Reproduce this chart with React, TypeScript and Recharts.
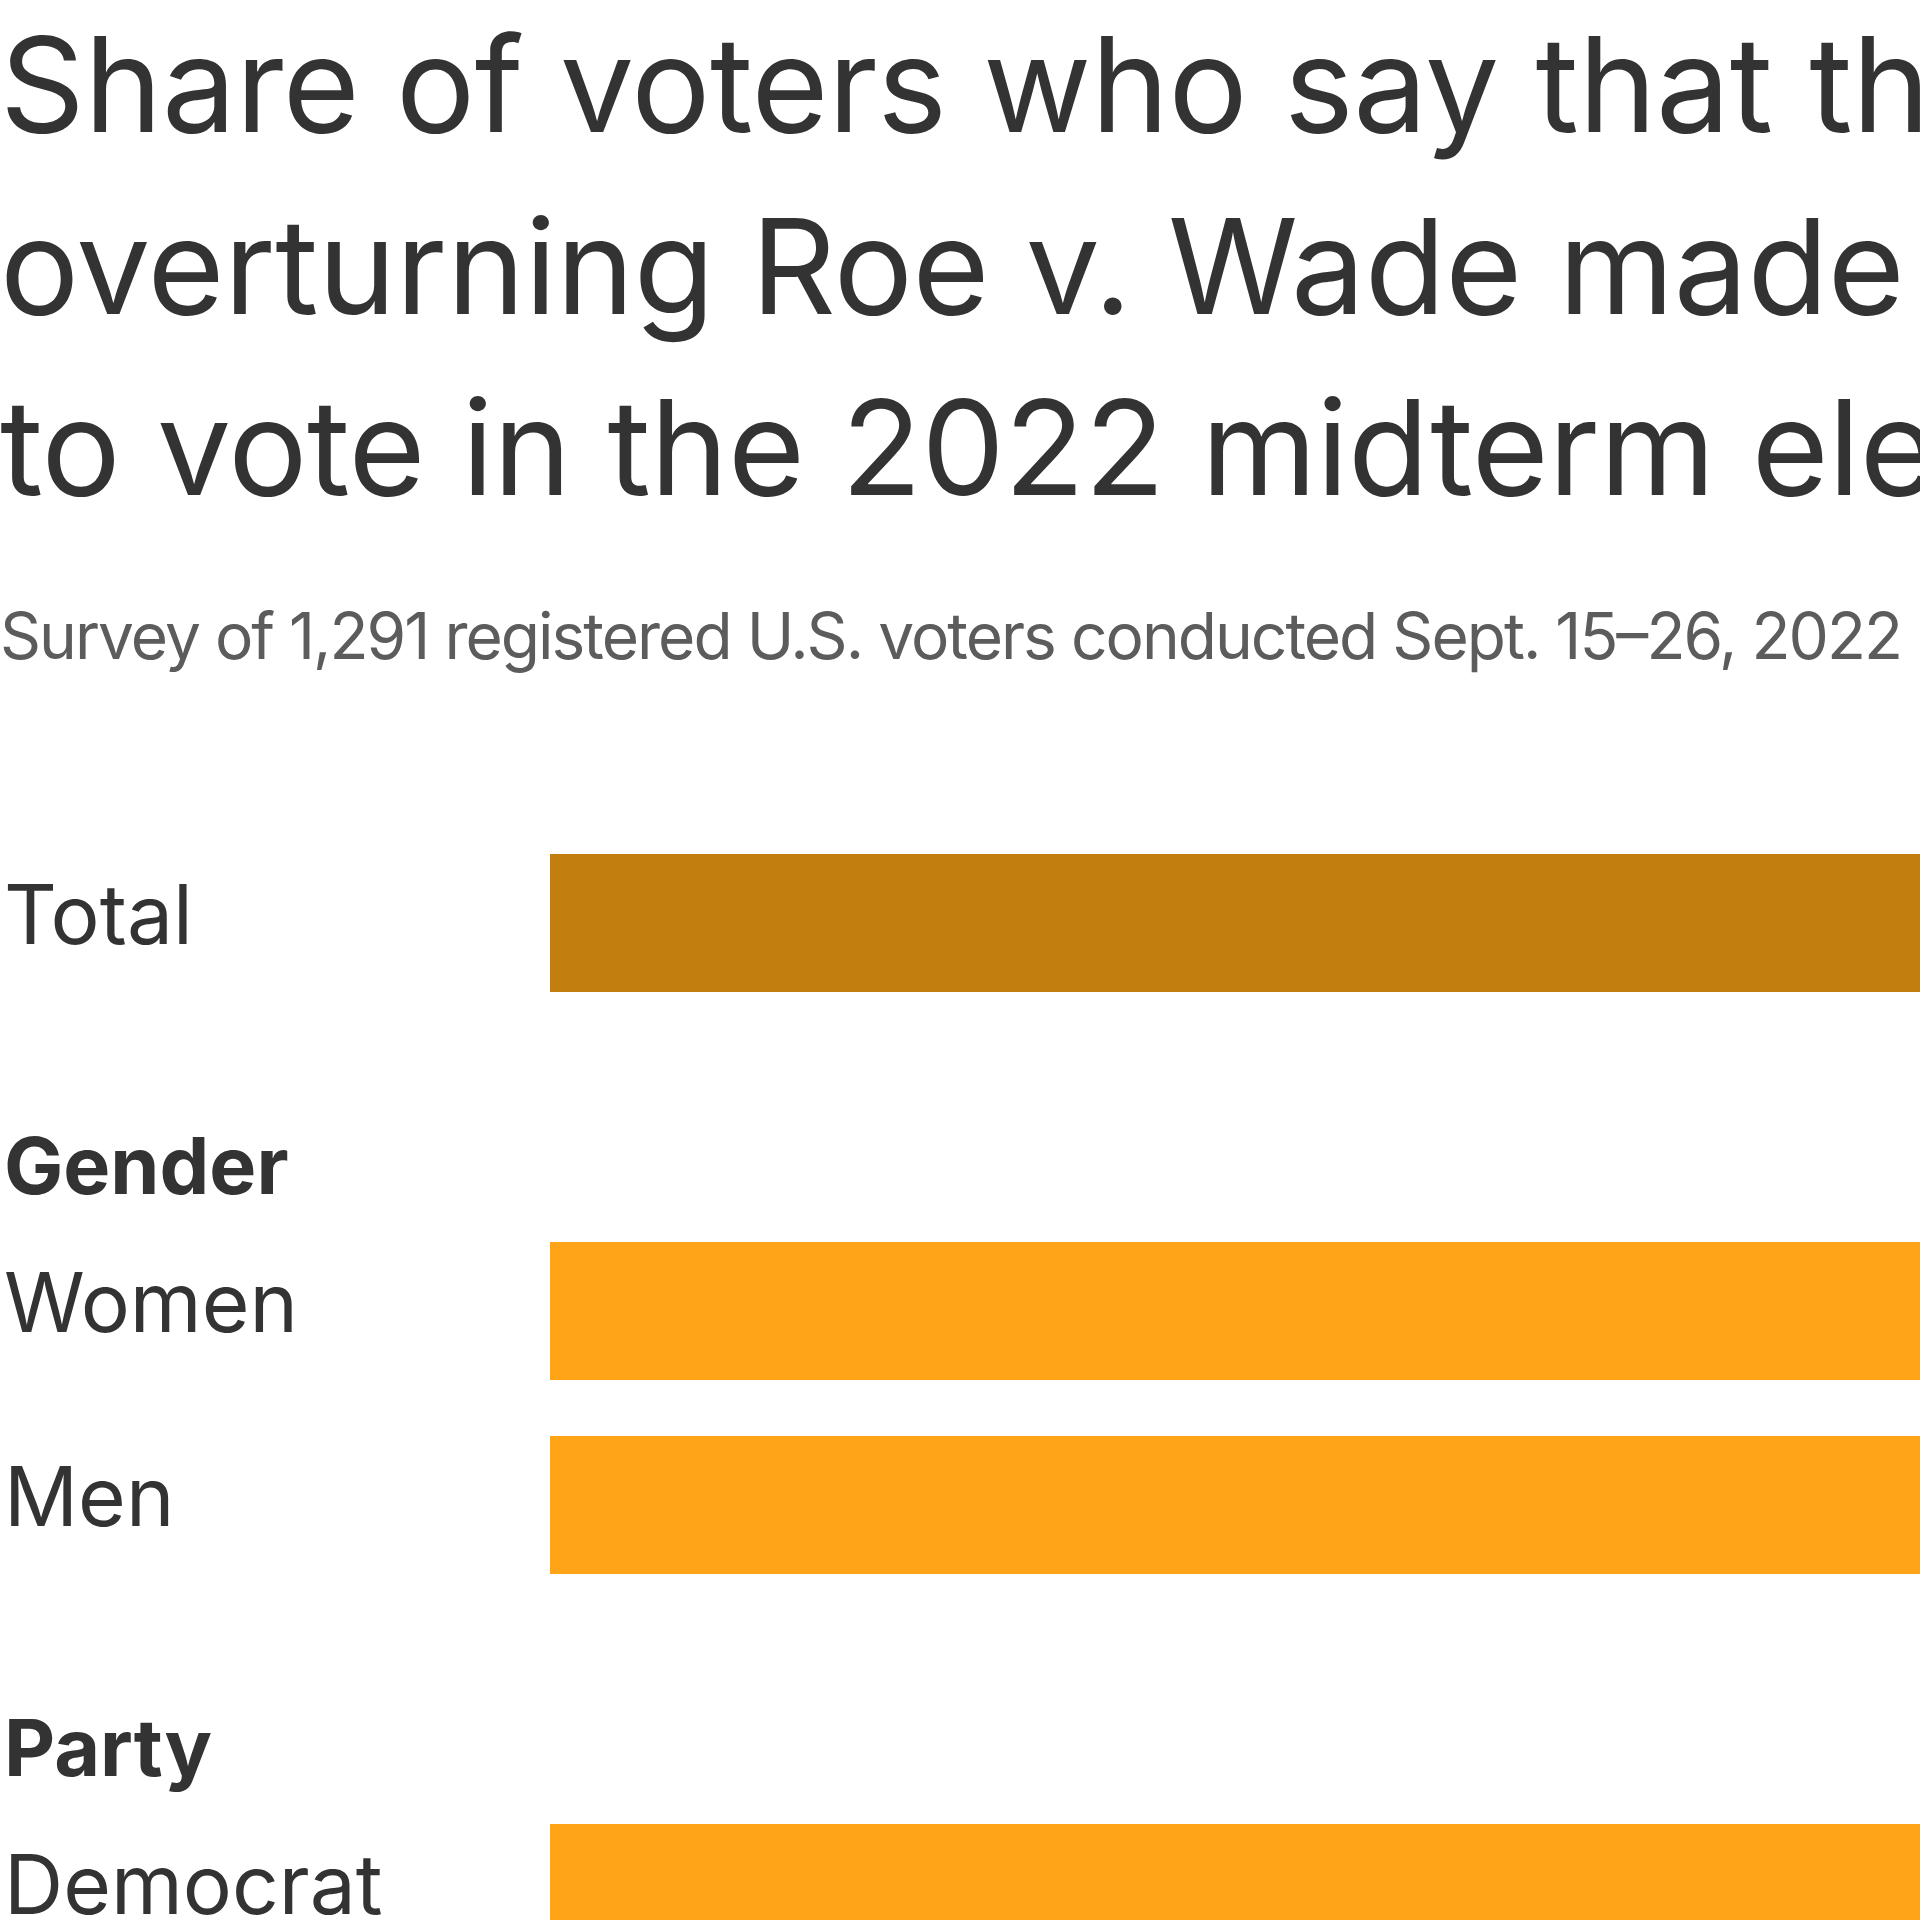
import React from "react";
import { Bar, BarChart, Cell, XAxis, YAxis } from "recharts";

const TITLE_LINES = [
  "Share of voters who say that the Supreme Court",
  "overturning Roe v. Wade made them more motivated",
  "to vote in the 2022 midterm elections",
];
const SUBTITLE = "Survey of 1,291 registered U.S. voters conducted Sept. 15–26, 2022";

const CATEGORIES = ["Total", "Gender", "Women", "Men", "Party", "Democrat"];
const HEADERS = ["Gender", "Party"];
const VALUES: (number | null)[] = [50, null, 55, 44, null, 71];

const TOTAL_COLOR = "#C27E0E";
const GROUP_COLOR = "#FFA416";
const TEXT_COLOR = "#333333";
const FONT = "Inter, 'Noto Sans', sans-serif";

const data = CATEGORIES.map((name, i) => ({ name, value: VALUES[i] }));

function CategoryTick({ y, payload }: { y?: number; payload?: { value: string } }) {
  const label = payload?.value ?? "";
  const isHeader = HEADERS.includes(label);
  return (
    <text
      x={4}
      y={(y ?? 0) + (isHeader ? 77 : 21)}
      fontFamily={FONT}
      fontSize={isHeader ? 79 : 82}
      fontWeight={isHeader ? 700 : 400}
      fill={TEXT_COLOR}
      textAnchor="start"
    >
      {label}
    </text>
  );
}

export default function App() {
  return (
    <div
      style={{
        position: "absolute",
        left: 0,
        top: 0,
        width: 1920,
        height: 1920,
        overflow: "hidden",
        background: "#fff",
      }}
    >
      <svg width={1920} height={720} style={{ position: "absolute", left: 0, top: 0 }}>
        {TITLE_LINES.map((line, i) => (
          <text
            key={line}
            x={0}
            y={132 + i * 181.5}
            fontFamily={FONT}
            fontSize={132}
            letterSpacing={-0.4}
            fill={TEXT_COLOR}
          >
            {line}
          </text>
        ))}
        <text
          x={0}
          y={659}
          fontFamily={FONT}
          fontSize={64}
          fill="#5c5c5c"
          textLength={1903}
          lengthAdjust="spacing"
        >
          {SUBTITLE}
        </text>
      </svg>
      <div style={{ position: "absolute", left: 0, top: 826 }}>
        <BarChart
          layout="vertical"
          width={4400}
          height={1164}
          data={data}
          margin={{ top: 0, right: 0, bottom: 0, left: 0 }}
        >
          <XAxis type="number" domain={[0, 100]} hide />
          <YAxis
            type="category"
            dataKey="name"
            width={550}
            axisLine={false}
            tickLine={false}
            interval={0}
            tick={<CategoryTick />}
          />
          <Bar dataKey="value" barSize={138} isAnimationActive={false}>
            {data.map((d) => (
              <Cell key={d.name} fill={d.name === "Total" ? TOTAL_COLOR : GROUP_COLOR} />
            ))}
          </Bar>
        </BarChart>
      </div>
    </div>
  );
}
